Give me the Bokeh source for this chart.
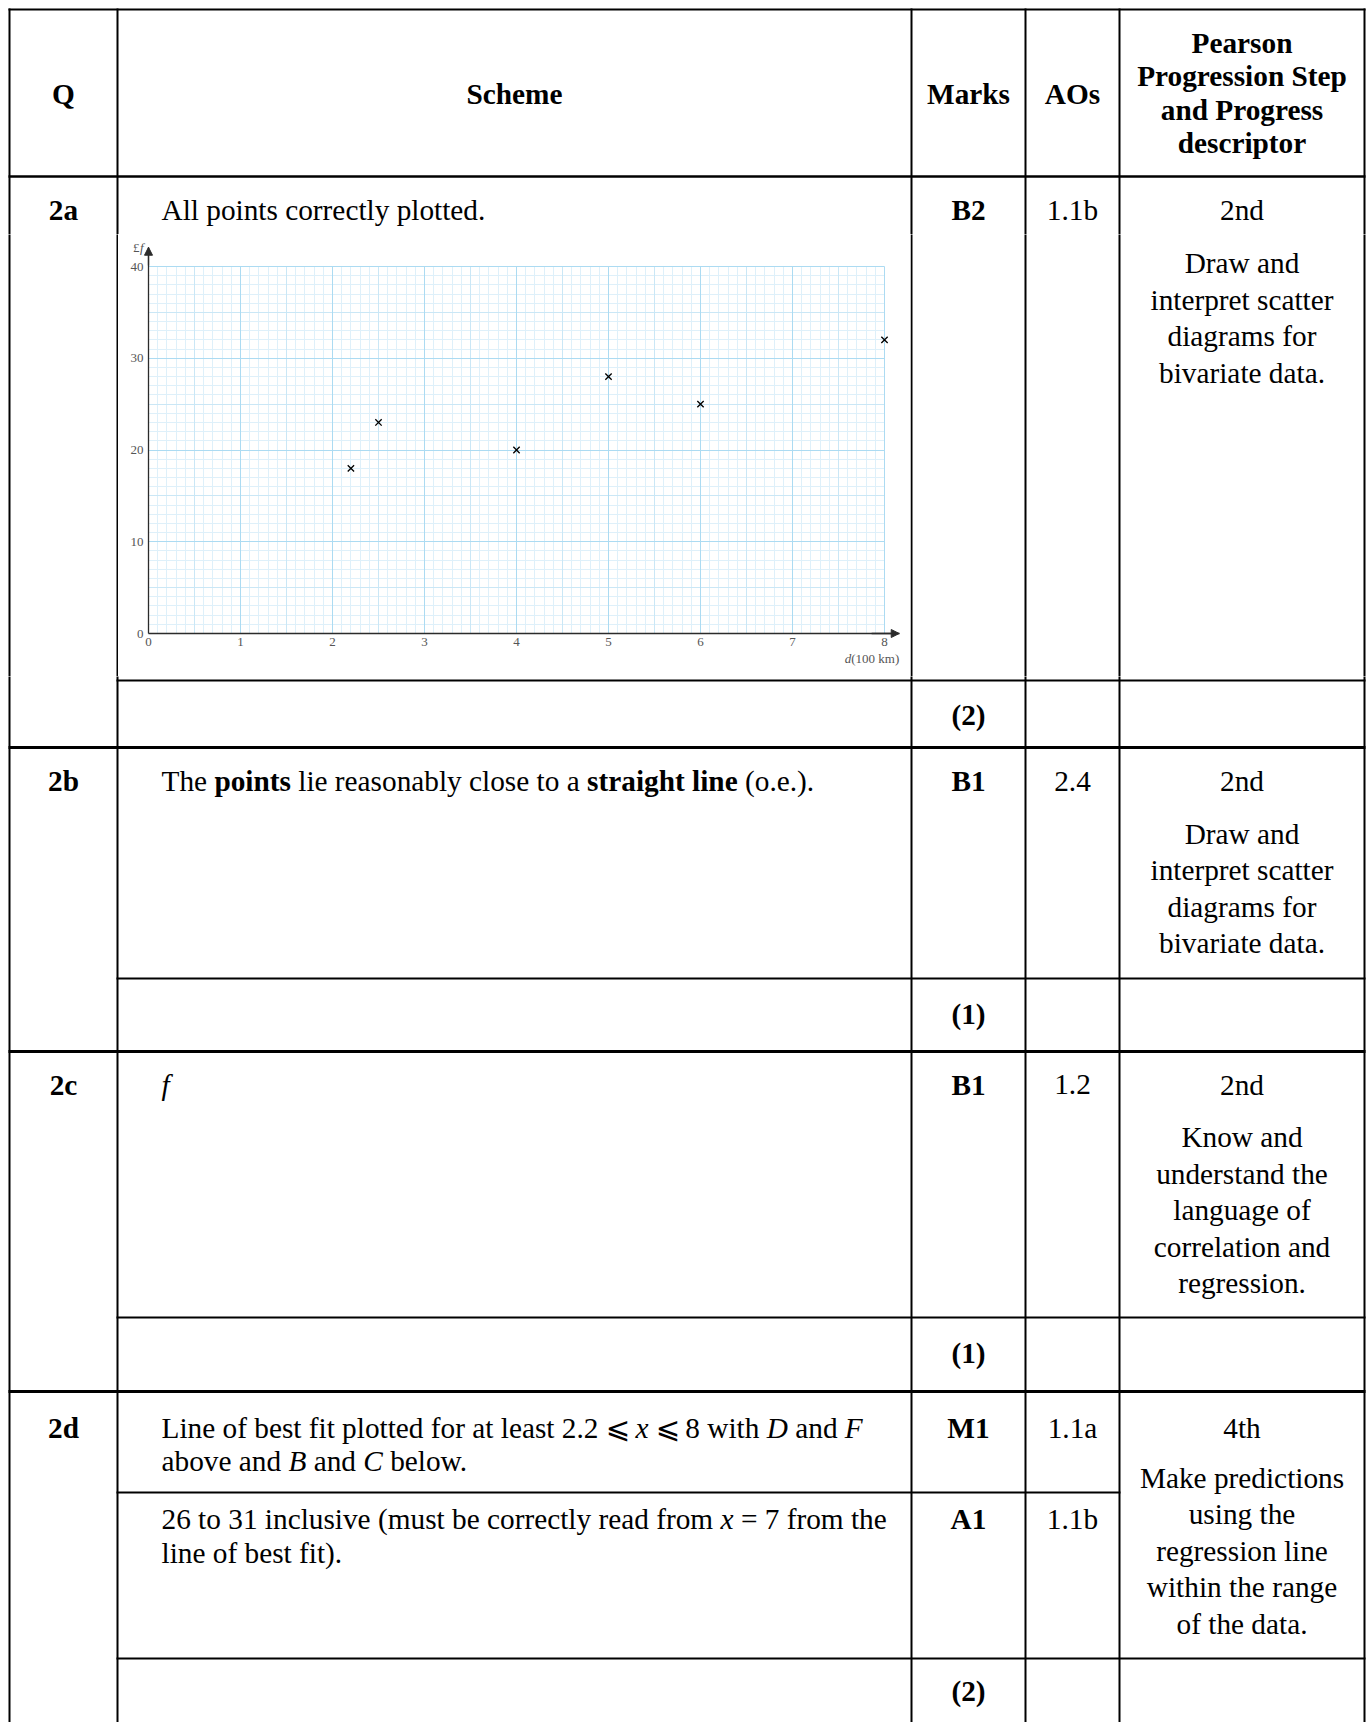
import numpy as np
from bokeh.plotting import figure
from bokeh.models import Range1d, FixedTicker, Grid, LinearAxis, Arrow, NormalHead, Label, ColumnDataSource
from bokeh.layouts import column, row
from bokeh.embed import file_html
from bokeh.resources import INLINE
from bokeh.core.properties import value

# ---------------- chart data ----------------
distance_100km = [2.2, 2.5, 4.0, 5.0, 6.0, 8.0]
cost_pounds = [18, 23, 20, 28, 25, 32]
x_tick_values = [0, 1, 2, 3, 4, 5, 6, 7, 8]
y_tick_values = [0, 10, 20, 30, 40]
x_axis_name = "d"
x_axis_unit = "(100 km)"
y_axis_prefix = "£"
y_axis_name = "f"

# ---------------- table content ----------------
header_cells = ["Q", "Scheme", "Marks", "AOs"]
header_pearson = ["Pearson", "Progression Step", "and Progress", "descriptor"]
questions = ["2a", "2b", "2c", "2d"]
marks = ["B2", "B1", "B1", "M1", "A1"]
aos = ["1.1b", "2.4", "1.2", "1.1a", "1.1b"]
totals = ["(2)", "(1)", "(1)", "(2)"]
steps = ["2nd", "2nd", "2nd", "4th"]
descriptors = [
    ["Draw and", "interpret scatter", "diagrams for", "bivariate data."],
    ["Draw and", "interpret scatter", "diagrams for", "bivariate data."],
    ["Know and", "understand the", "language of", "correlation and", "regression."],
    ["Make predictions", "using the", "regression line", "within the range", "of the data."],
]
scheme_lines = [
    [[("All points correctly plotted.", "normal")]],
    [[("The ", "normal"), ("points", "bold"), (" lie reasonably close to a ", "normal"),
      ("straight line", "bold"), (" (o.e.).", "normal")]],
    [[("f", "italic")]],
    [[("Line of best fit plotted for at least 2.2 ⩽ ", "normal"), ("x", "italic"),
      (" ⩽ 8 with ", "normal"), ("D", "italic"), (" and ", "normal"), ("F", "italic")],
     [("above and ", "normal"), ("B", "italic"), (" and ", "normal"), ("C", "italic"), (" below.", "normal")]],
    [[("26 to 31 inclusive (must be correctly read from ", "normal"), ("x", "italic"),
      (" = 7 from the", "normal")],
     [("line of best fit).", "normal")]],
]

# ---------------- layout (page pixel coordinates) ----------------
PAGE_W = 1366
PAGE_H = 1722
SPLIT_TOP = 234      # top band / chart band
SPLIT_BOT = 676      # chart band / lower band
CHART_L, CHART_R = 118, 910

FONT = "Liberation Serif"
FS = 29.3
FS_STR = "29.3px"
MID_SHIFT = 0.335 * FS   # baseline -> middle
COL_X = [9, 117, 911, 1025, 1119, 1364]
Q_CX = (COL_X[0] + COL_X[1]) / 2
SCHEME_CX = (COL_X[1] + COL_X[2]) / 2
MARK_CX = (COL_X[2] + COL_X[3]) / 2
AO_CX = (COL_X[3] + COL_X[4]) / 2
PEAR_CX = (COL_X[4] + COL_X[5]) / 2
TEXT_LEFT = 161

HEADER_Y = 103
PEARSON_Y = [52, 85.5, 119, 152.5]
Q_Y = [219.3, 790.7, 1094.3, 1437]
MARK_Y = [219.3, 790.7, 1094.3, 1437, 1528.5]
TOTAL_Y = [724, 1023, 1362, 1700]
SCHEME_Y = [[219.3], [790.7], [1094.3], [1437, 1470.5], [1528.5, 1562]]
DESC_Y0 = [272.7, 843.3, 1146.7, 1487]
DESC_STEP = 36.5

# horizontal rules: (x0, x1, y, width)
HRULES = [
    (8, 1365, 9, 2), (8, 1365, 176, 2.5),
    (116, 1365, 680, 2), (8, 1365, 747, 3),
    (116, 1365, 978, 2), (8, 1365, 1051, 3),
    (116, 1365, 1317, 2), (8, 1365, 1391, 3),
    (116, 1120, 1492, 2), (116, 1365, 1658, 2),
]

# chart pixel frame: x=0 at 148px, 92 px per unit; y=0 at 633px, 9.175 px per unit
CH_X0, CH_XS = 148.0, 92.0
CH_Y0, CH_YS = 633.0, 9.175
X_AXIS_END = 8.16
Y_AXIS_END = 42.1

# ---------------- font metrics (Times-compatible) ----------------
lower_r = [444,500,444,500,444,333,500,500,278,278,500,278,778,500,500,500,500,333,389,278,500,500,722,500,500,444]
upper_r = [722,667,667,722,611,556,722,722,333,389,722,611,889,722,722,556,722,667,556,611,722,722,944,722,722,611]
lower_b = [500,556,444,556,444,333,500,556,278,333,556,278,833,556,500,556,556,444,389,333,556,500,722,500,500,444]
lower_i = [500,500,444,500,444,278,500,500,278,278,444,278,722,500,500,500,500,389,389,278,500,444,667,444,444,389]
upper_i = [611,611,667,722,611,611,722,722,333,444,667,556,833,667,722,611,722,611,500,556,722,611,833,611,556,556]
LOW = "abcdefghijklmnopqrstuvwxyz"
UP = LOW.upper()
PUNCT = {" ": 250, ".": 250, ",": 250, "(": 333, ")": 333, "=": 564}
W_N = dict(zip(LOW, lower_r)); W_N.update(zip(UP, upper_r)); W_N.update({d: 500 for d in "0123456789"}); W_N.update(PUNCT)
W_B = dict(W_N); W_B.update(zip(LOW, lower_b))
W_I = dict(W_N); W_I.update(zip(LOW, lower_i)); W_I.update(zip(UP, upper_i))
W_SYM = 760
METRICS = {"normal": W_N, "bold": W_B, "italic": W_I}


def tw(s, style):
    t = METRICS[style]
    return sum(W_SYM if c == "⩽" else t.get(c, 500) for c in s) * FS / 1000.0


texts = []  # (x, y_middle, text, style, align, font)


def add(x, y, s, style="normal", align="left", font=FONT):
    texts.append((x, y - MID_SHIFT, s, style, align, font))


for cx, s in zip([Q_CX, SCHEME_CX, MARK_CX, AO_CX], header_cells):
    add(cx, HEADER_Y, s, "bold", "center")
for s, y in zip(header_pearson, PEARSON_Y):
    add(PEAR_CX, y, s, "bold", "center")
for s, y in zip(questions, Q_Y):
    add(Q_CX, y, s, "bold", "center")
for s, y in zip(marks, MARK_Y):
    add(MARK_CX, y, s, "bold", "center")
for s, y in zip(aos, MARK_Y):
    add(AO_CX, y, s, "normal", "center")
for s, y in zip(totals, TOTAL_Y):
    add(MARK_CX, y, s, "bold", "center")
for s, y in zip(steps, Q_Y):
    add(PEAR_CX, y, s, "normal", "center")
for lines, y0 in zip(descriptors, DESC_Y0):
    for i, s in enumerate(lines):
        add(PEAR_CX, y0 + i * DESC_STEP, s, "normal", "center")

for block, ys in zip(scheme_lines, SCHEME_Y):
    for segs, y in zip(block, ys):
        x = TEXT_LEFT
        for s, st in segs:
            pieces = s.split("⩽")
            for k, piece in enumerate(pieces):
                if k > 0:
                    add(x, y, "⩽", "normal", "left", "DejaVu Sans")
                    x += W_SYM * FS / 1000.0
                lead = len(piece) - len(piece.lstrip(" "))
                core = piece.strip(" ")
                if core:
                    add(x + tw(" " * lead, st), y, core, st, "left")
                x += tw(piece, st)


def make_table_fig(x0, x1, y0, y1):
    p = figure(width=int(x1 - x0), height=int(y1 - y0),
               x_range=Range1d(x0, x1), y_range=Range1d(y1, y0),
               x_axis_type=None, y_axis_type=None, toolbar_location=None,
               output_backend="svg", min_border=0, outline_line_color=None,
               background_fill_color="white", border_fill_color="white")
    vx = [x for x in COL_X if x0 - 2 <= x <= x1 + 2]
    if vx:
        p.segment(x0=vx, y0=[8] * len(vx), x1=vx, y1=[PAGE_H + 20] * len(vx),
                  line_color="black", line_width=2)
    for w in sorted(set(h[3] for h in HRULES)):
        sel = [h for h in HRULES if h[3] == w and y0 - 2 <= h[2] <= y1 + 2
               and h[1] >= x0 and h[0] <= x1]
        if sel:
            p.segment(x0=[h[0] for h in sel], y0=[h[2] for h in sel],
                      x1=[h[1] for h in sel], y1=[h[2] for h in sel],
                      line_color="black", line_width=w)
    mine = [t for t in texts if x0 <= t[0] < x1 and y0 <= t[1] < y1]
    keys = sorted(set((t[3], t[4], t[5]) for t in mine))
    for st, al, fn in keys:
        grp = [t for t in mine if (t[3], t[4], t[5]) == (st, al, fn)]
        src = ColumnDataSource(dict(x=[t[0] for t in grp], y=[t[1] for t in grp],
                                    text=[t[2] for t in grp]))
        p.text(x="x", y="y", text="text", source=src,
               text_font=value(fn), text_font_size=value(FS_STR),
               text_font_style=value(st), text_align=value(al),
               text_baseline=value("middle"), text_color="black")
    return p


# ---------------- the scatter chart ----------------
AX = "#2b2b2b"
TICK_FONT = "Liberation Serif"
TICK_COLOR = "#555555"
chart_h = SPLIT_BOT - SPLIT_TOP
chart = figure(width=CHART_R - CHART_L, height=chart_h,
               x_range=Range1d((CHART_L - CH_X0) / CH_XS, (CHART_R - CH_X0) / CH_XS),
               y_range=Range1d((CH_Y0 - SPLIT_BOT) / CH_YS, (CH_Y0 - SPLIT_TOP) / CH_YS),
               x_axis_type=None, y_axis_type=None, toolbar_location=None,
               output_backend="svg", min_border=0, outline_line_color=None,
               background_fill_color="white", border_fill_color="white")

minor_x = [round(v, 1) for v in np.arange(0.1, 8.0, 0.1) if abs(v * 2 - round(v * 2)) > 1e-6]
mid_x = [i + 0.5 for i in range(8)]
minor_y = [v for v in range(1, 41) if v % 5]
mid_y = [5, 15, 25, 35]

grid_specs = [
    (0, minor_x, "#def0fa"), (1, minor_y, "#def0fa"),
    (0, mid_x, "#cae7f6"), (1, mid_y, "#cae7f6"),
    (0, x_tick_values, "#acdbf2"), (1, y_tick_values, "#acdbf2"),
]
for dim, ticks, col in grid_specs:
    g = Grid(dimension=dim, ticker=FixedTicker(ticks=ticks), grid_line_color=col, grid_line_width=1)
    try:
        g.cross_bounds = (0, 40) if dim == 0 else (0, 8)
    except Exception:
        pass
    chart.add_layout(g)

axis_style = dict(axis_line_color=AX, axis_line_width=1.3,
                  major_tick_line_color=None, minor_tick_line_color=None,
                  major_tick_out=0, major_tick_in=0,
                  major_label_text_font=TICK_FONT, major_label_text_font_size="13px",
                  major_label_text_color=TICK_COLOR)
xaxis = LinearAxis(ticker=FixedTicker(ticks=x_tick_values), fixed_location=0,
                   bounds=(0, X_AXIS_END), major_label_standoff=4, **axis_style)
yaxis = LinearAxis(ticker=FixedTicker(ticks=y_tick_values), fixed_location=0,
                   bounds=(0, Y_AXIS_END), major_label_standoff=5, **axis_style)
chart.add_layout(xaxis, "below")
chart.add_layout(yaxis, "left")

chart.add_layout(Arrow(end=NormalHead(size=8, fill_color=AX, line_color=AX, line_width=1),
                       x_start=X_AXIS_END - 0.3, y_start=0, x_end=X_AXIS_END, y_end=0,
                       line_color=AX, line_width=1.3))
chart.add_layout(Arrow(end=NormalHead(size=8, fill_color=AX, line_color=AX, line_width=1),
                       x_start=0, y_start=Y_AXIS_END - 2, x_end=0, y_end=Y_AXIS_END,
                       line_color=AX, line_width=1.3))

lab = dict(text_font=TICK_FONT, text_font_size="13px", text_color=TICK_COLOR, text_baseline="middle")
chart.add_layout(Label(x=0, y=Y_AXIS_END, x_offset=-5, text=y_axis_name,
                       text_font_style="italic", text_align="right", **lab))
chart.add_layout(Label(x=0, y=Y_AXIS_END, x_offset=-9, text=y_axis_prefix,
                       text_align="right", **lab))
chart.add_layout(Label(x=X_AXIS_END, y=0, y_offset=-25, text=x_axis_unit,
                       text_align="right", **lab))
chart.add_layout(Label(x=X_AXIS_END, y=0, y_offset=-25, x_offset=-48, text=x_axis_name,
                       text_font_style="italic", text_align="right", **lab))

chart.scatter(x=distance_100km, y=cost_pounds, marker="x", size=9,
              line_color="black", line_width=1.3)

# ---------------- assemble page ----------------
top = make_table_fig(0, PAGE_W, 0, SPLIT_TOP)
left = make_table_fig(0, CHART_L, SPLIT_TOP, SPLIT_BOT)
right = make_table_fig(CHART_R, PAGE_W, SPLIT_TOP, SPLIT_BOT)
bottom = make_table_fig(0, PAGE_W, SPLIT_BOT, PAGE_H)

layout = column(top, row(left, chart, right, spacing=0), bottom, spacing=0)

with open("out.html", "w") as f:
    f.write(file_html(layout, INLINE, title="Mark scheme"))
